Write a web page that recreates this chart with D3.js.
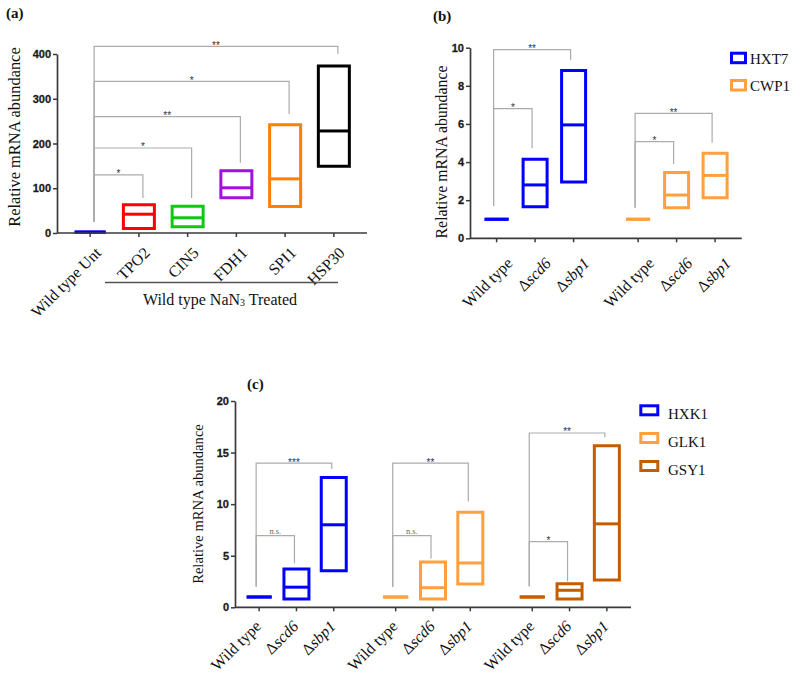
<!DOCTYPE html>
<html><head><meta charset="utf-8">
<script src="https://cdn.jsdelivr.net/npm/d3@7"></script>
<style>body{margin:0;background:#fff} svg{display:block} .tick text{font-weight:700}</style>
</head><body>
<svg id="chart" width="800" height="680"></svg>
<script>
// ---------- Panel (a) data ----------
const catsA = ["Wild type Unt", "TPO2", "CIN5", "FDH1", "SPI1", "HSP30"];
const minA = [2, 10, 14, 79, 59, 149];
const medA = [2, 42, 34, 101, 121, 228];
const maxA = [2, 63, 60, 139, 242, 373];
const colorsA = ["#0000ff", "#ff0000", "#10c810", "#a010e0", "#ff8000", "#000000"];
const ticksA = [0, 100, 200, 300, 400];
const sigToA = ["TPO2", "CIN5", "FDH1", "SPI1", "HSP30"];
const sigTopA = [130, 190, 260, 339, 417];
const sigDropA = [78, 78, 157, 266, 400];
const sigLblA = ["*", "*", "**", "*", "**"];
const sigStartA = 25;

// ---------- Panel (b) data ----------
const strains = ["Wild type", "Δscd6", "Δsbp1"];
const groupsB = ["HXT7", "CWP1"];
const colorsB = ["#0000ff", "#ffa040"];
const minB = [[1, 1.65, 2.95], [1, 1.6, 2.13]];
const medB = [[1, 2.8, 5.95], [1, 2.27, 3.3]];
const maxB = [[1, 4.15, 8.8], [1, 3.45, 4.46]];
const ticksB = [0, 2, 4, 6, 8, 10];
const sigStartB = [1.7, 1.6];
const sigTopB = [[6.8, 9.9], [5.07, 6.55]];
const sigDropB = [[4.72, 9.35], [3.9, 5.01]];
const sigLblB = [["*", "**"], ["*", "**"]];

// ---------- Panel (c) data ----------
const groupsC = ["HXK1", "GLK1", "GSY1"];
const colorsC = ["#0000ff", "#ffa040", "#c45c00"];
const minC = [[1, 0.8, 3.55], [1, 0.8, 2.26], [1, 0.8, 2.65]];
const medC = [[1, 1.95, 8.0], [1, 1.9, 4.3], [1, 1.65, 8.09]];
const maxC = [[1, 3.72, 12.58], [1, 4.4, 9.22], [1, 2.29, 15.66]];
const ticksC = [0, 5, 10, 15, 20];
const sigStartC = [2.0, 2.0, 2.05];
const sigTopC = [[6.95, 13.98], [6.95, 13.98], [6.37, 16.9]];
const sigDropC = [[4.27, 13.4], [4.72, 10.25], [2.49, 16.5]];
const sigLblC = [["n.s.", "***"], ["n.s.", "**"], ["*", "**"]];

// ---------- helpers ----------
const svg = d3.select("#chart");
const SERIF = "'Liberation Serif','Times New Roman',serif";
const SANS = "Arial,'Liberation Sans',sans-serif";
const AXC = "#3a3a3a";

function boxPath(x, w, yTop, yBot) {
  const p = d3.path();
  p.moveTo(x - w / 2, yTop); p.lineTo(x + w / 2, yTop); p.lineTo(x + w / 2, yBot); p.lineTo(x - w / 2, yBot); p.closePath();
  return p.toString();
}
function drawBox(g, x, w, y, mn, md, mx, color, sw) {
  g.append("path").attr("d", boxPath(x, w, y(mx), y(mn))).attr("fill", "none")
    .attr("stroke", color).attr("stroke-width", sw).attr("stroke-linejoin", "miter");
  g.append("line").attr("x1", x - w / 2).attr("x2", x + w / 2).attr("y1", y(md)).attr("y2", y(md))
    .attr("stroke", color).attr("stroke-width", sw);
}
function yAxis(x0, y, ticks) {
  const g = svg.append("g").attr("transform", `translate(${x0},0)`)
    .attr("font-family", SANS).attr("font-size", 11).attr("font-weight", 700)
    .call(d3.axisLeft(y).tickValues(ticks).tickSize(4).tickSizeOuter(0).tickPadding(2));
  g.attr("font-family", SANS).attr("font-size", 11);
  g.select(".domain").attr("stroke", AXC).attr("stroke-width", 1.7);
  g.selectAll(".tick line").attr("stroke", AXC).attr("stroke-width", 1.5);
  g.selectAll(".tick text").attr("fill", "#1a1a1a").attr("font-weight", 700)
    .attr("stroke", "#1a1a1a").attr("stroke-width", 0.3);
}
function xAxisLine(x0, x1, y0, xs) {
  svg.append("line").attr("x1", x0).attr("x2", x1).attr("y1", y0).attr("y2", y0).attr("stroke", AXC).attr("stroke-width", 1.7);
  svg.selectAll(null).data(xs).enter().append("line")
    .attr("x1", d => d).attr("x2", d => d).attr("y1", y0).attr("y2", y0 + 4).attr("stroke", AXC).attr("stroke-width", 1.5);
}
function xLabel(x, y0, label, ox, oy, fs) {
  const t = svg.append("text").attr("transform", `translate(${x + ox},${y0 + oy}) rotate(-45)`)
    .attr("text-anchor", "end").attr("dy", "0.7em").style("font-family", SERIF).style("font-size", fs + "px").attr("fill", "#111");
  if (label.startsWith("Δ")) {
    t.append("tspan").text("Δ");
    t.append("tspan").style("font-style", "italic").text(label.slice(1));
  } else t.text(label);
}
function yTitle(x, yc, fs) {
  svg.append("text").attr("transform", `translate(${x},${yc}) rotate(-90)`).attr("text-anchor", "middle")
    .style("font-family", SERIF).style("font-size", fs + "px").attr("fill", "#111").text("Relative mRNA abundance");
}
function bracket(xL, xR, yS, yT, yD, lbl) {
  const p = d3.path();
  p.moveTo(xL, yS); p.lineTo(xL, yT); p.lineTo(xR, yT); p.lineTo(xR, yD);
  svg.append("path").attr("d", p.toString()).attr("fill", "none").attr("stroke", "#ababab").attr("stroke-width", 1.2);
  const ns = lbl === "n.s.";
  svg.append("text").attr("x", (xL + xR) / 2).attr("y", ns ? yT - 1.5 : yT + 2.5).attr("text-anchor", "middle")
    .style("font-family", ns ? SERIF : SANS).style("font-size", ns ? "8.5px" : "10px")
    .attr("fill", ns ? "#666" : "#333").text(lbl);
}
function panelTag(x, y, s) {
  svg.append("text").attr("x", x).attr("y", y).style("font-family", SERIF).style("font-weight", "bold")
    .style("font-size", "15px").attr("fill", "#111").text(s);
}
function legend(x, ys, names, colors, tx, bys) {
  names.forEach((n, i) => {
    svg.append("rect").attr("x", x).attr("y", ys[i]).attr("width", bys.w).attr("height", bys.h)
      .attr("fill", "none").attr("stroke", colors[i]).attr("stroke-width", 3);
    svg.append("text").attr("x", tx).attr("y", ys[i] + bys.base).style("font-family", SERIF)
      .style("font-size", "15px").attr("fill", "#111").text(n);
  });
}

// ---------- Panel (a) ----------
panelTag(6, 18, "(a)");
const xA = d3.scalePoint().domain(catsA).range([57, 367]).padding(0.68);
const yA = d3.scaleLinear().domain([0, 400]).range([233, 54]);
sigToA.forEach((c, i) => bracket(xA(catsA[0]) + 4, xA(c) + 4, yA(sigStartA), yA(sigTopA[i]), yA(sigDropA[i]), sigLblA[i]));
catsA.forEach((c, i) => drawBox(svg, xA(c), 31, yA, minA[i], medA[i], maxA[i], colorsA[i], 3));
yAxis(57, yA, ticksA);
xAxisLine(57, 367, 233, catsA.map(c => xA(c)));
catsA.forEach(c => xLabel(xA(c), 233, c, 4, 13, 16));
yTitle(20, 137, 16.4);
svg.append("line").attr("x1", 105).attr("x2", 338).attr("y1", 282.5).attr("y2", 282.5).attr("stroke", "#555").attr("stroke-width", 1.3);
{
  const t = svg.append("text").attr("x", 220).attr("y", 305).attr("text-anchor", "middle")
    .style("font-family", SERIF).style("font-size", "16px").attr("fill", "#111");
  t.append("tspan").text("Wild type NaN");
  t.append("tspan").style("font-size", "10px").attr("dy", 1).text("3");
  t.append("tspan").attr("dy", -1).text(" Treated");
}

// ---------- Panel (b) ----------
panelTag(433, 21, "(b)");
const xBg = d3.scalePoint().domain(groupsB).range([470, 741.7]).padding(0.46);
const xBs = d3.scalePoint().domain(strains).range([-38.5, 38.5]);
const yB = d3.scaleLinear().domain([0, 10]).range([238.3, 47.7]);
const xsB = [];
groupsB.forEach((g, gi) => {
  const xw = xBg(g) + xBs(strains[0]) - 3;
  [1, 2].forEach((si, k) => bracket(xw, xBg(g) + xBs(strains[si]) - 3, yB(sigStartB[gi]), yB(sigTopB[gi][k]), yB(sigDropB[gi][k]), sigLblB[gi][k]));
  strains.forEach((s, si) => {
    const x = xBg(g) + xBs(s);
    xsB.push([x, s]);
    drawBox(svg, x, 24, yB, minB[gi][si], medB[gi][si], maxB[gi][si], colorsB[gi], 3);
  });
});
yAxis(470, yB, ticksB);
xAxisLine(470, 741.7, 238.3, xsB.map(d => d[0]));
xsB.forEach(d => xLabel(d[0], 238.3, d[1], 9, 18, 16));
yTitle(447, 152, 15.8);
legend(731.5, [53.2, 80.5], groupsB, colorsB, 750, {w: 14, h: 9.5, base: 10.5});

// ---------- Panel (c) ----------
panelTag(247, 389, "(c)");
const xCg = d3.scalePoint().domain(groupsC).range([235, 631]).padding(0.45);
const xCs = d3.scalePoint().domain(strains).range([-37.3, 37.3]);
const yC = d3.scaleLinear().domain([0, 20]).range([607.3, 401]);
const xsC = [];
groupsC.forEach((g, gi) => {
  const xw = xCg(g) + xCs(strains[0]) - 3;
  [1, 2].forEach((si, k) => bracket(xw, xCg(g) + xCs(strains[si]) - 2, yC(sigStartC[gi]), yC(sigTopC[gi][k]), yC(sigDropC[gi][k]), sigLblC[gi][k]));
  strains.forEach((s, si) => {
    const x = xCg(g) + xCs(s);
    xsC.push([x, s]);
    drawBox(svg, x, 25, yC, minC[gi][si], medC[gi][si], maxC[gi][si], colorsC[gi], 3);
  });
});
yAxis(235, yC, ticksC);
xAxisLine(235, 631, 607.3, xsC.map(d => d[0]));
xsC.forEach(d => xLabel(d[0], 607.3, d[1], -5, 12, 16));
yTitle(203, 504, 14.6);
legend(640.8, [405.8, 433.5, 461.5], groupsC, colorsC, 668, {w: 17, h: 9, base: 13});
</script>
</body></html>
